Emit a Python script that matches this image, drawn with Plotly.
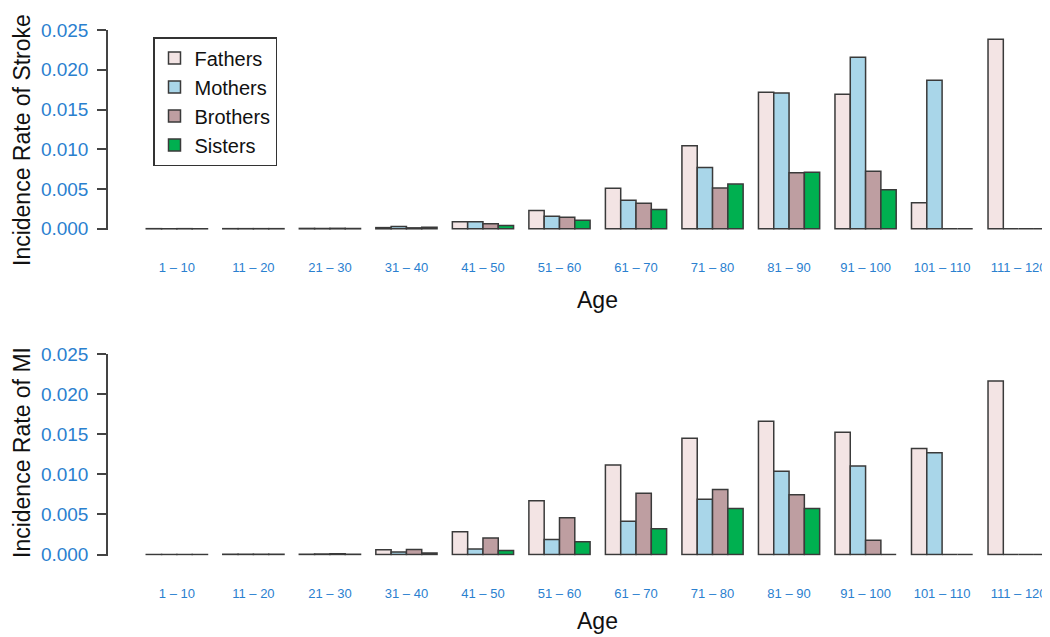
import plotly.graph_objects as go
from plotly.subplots import make_subplots

# --- Data ---
age_groups = ["1 – 10", "11 – 20", "21 – 30", "31 – 40", "41 – 50", "51 – 60",
              "61 – 70", "71 – 80", "81 – 90", "91 – 100", "101 – 110", "111 – 120"]

relatives = ["Fathers", "Mothers", "Brothers", "Sisters"]

stroke_fathers = [0.00002, 0.00002, 0.00005, 0.00015, 0.00088, 0.00229,
                  0.00509, 0.01046, 0.01717, 0.01692, 0.00329, 0.02383]
stroke_mothers = [0.00001, 0.00002, 0.00004, 0.00030, 0.00088, 0.00158,
                  0.00358, 0.00771, 0.01708, 0.02158, 0.01867, 0.0]
stroke_brothers = [0.00002, 0.00002, 0.00006, 0.00012, 0.00063, 0.00145,
                   0.00321, 0.00512, 0.00704, 0.00725, 0.0, 0.0]
stroke_sisters = [0.00001, 0.00002, 0.00004, 0.00020, 0.00042, 0.00108,
                  0.00242, 0.00562, 0.00712, 0.00492, 0.0, 0.0]

mi_fathers = [0.00001, 0.00002, 0.00004, 0.00058, 0.00285, 0.00670,
              0.01116, 0.01450, 0.01660, 0.01525, 0.01323, 0.02162]
mi_mothers = [0.00001, 0.00002, 0.00005, 0.00030, 0.00070, 0.00186,
              0.00414, 0.00690, 0.01038, 0.01103, 0.01269, 0.0]
mi_brothers = [0.00001, 0.00002, 0.00008, 0.00062, 0.00207, 0.00459,
               0.00765, 0.00810, 0.00744, 0.00178, 0.0, 0.0]
mi_sisters = [0.00001, 0.00003, 0.00004, 0.00020, 0.00050, 0.00158,
              0.00322, 0.00572, 0.00572, 0.0, 0.0, 0.0]

y_ticks = [0.0, 0.005, 0.010, 0.015, 0.020, 0.025]

# --- Styling ---
bar_colors = ["#F3E4E4", "#A9D6E9", "#BE9EA1", "#00B050"]
outline = "#3A3A3A"
tick_blue = "#2A80CF"
font_family = "Liberation Sans, Arial, sans-serif"

# the page body keeps its default 8px margin, so the figure sits 8px in from the window corner
PAGE_OFFSET = 8
FIG_W = 1050 - PAGE_OFFSET
FIG_H = 637 - PAGE_OFFSET


def px_x(x):
    """Window pixel column -> paper fraction."""
    return (x - PAGE_OFFSET) / FIG_W


def px_y(y):
    """Window pixel row -> paper fraction."""
    return 1 - (y - PAGE_OFFSET) / FIG_H


# title, series, plot top/bottom rows, y-title centre row, "Age" row
panels = [
    ("Incidence Rate of Stroke", [stroke_fathers, stroke_mothers, stroke_brothers, stroke_sisters],
     (30, 230), 140, 300),
    ("Incidence Rate of MI", [mi_fathers, mi_mothers, mi_brothers, mi_sisters],
     (354, 555.7), 453, 621),
]

fig = make_subplots(rows = 2, cols = 1)

for row, (title, series, (top, bottom), title_y, age_y) in enumerate(panels, start = 1):
    for name, values, color in zip(relatives, series, bar_colors):
        fig.add_trace(
            go.Bar(
                x = age_groups,
                y = values,
                name = name,
                marker = {"color": color, "line": {"color": outline, "width": 1.5}},
                showlegend = (row == 1),
                hoverinfo = "skip",
            ),
            row = row,
            col = 1,
        )
    fig.update_yaxes(domain = [px_y(bottom), px_y(top)], row = row, col = 1)
    fig.add_annotation(
        text = title,
        textangle = -90,
        x = px_x(22),
        y = px_y(title_y),
        xref = "paper",
        yref = "paper",
        xanchor = "center",
        yanchor = "middle",
        showarrow = False,
        font = {"size": 23, "color": "#111"},
    )
    fig.add_annotation(
        text = "Age",
        x = px_x(597),
        y = px_y(age_y),
        xref = "paper",
        yref = "paper",
        xanchor = "center",
        yanchor = "middle",
        showarrow = False,
        font = {"size": 23, "color": "#111"},
    )

fig.update_xaxes(
    range = [-0.9, 11.41],
    domain = [px_x(108), 1.0],
    automargin = False,
    showline = False,
    showgrid = False,
    zeroline = False,
    ticks = "",
    tickfont = {"size": 13, "color": tick_blue},
    ticklabelstandoff = 28,
)
fig.update_yaxes(
    range = [-0.00015, 0.025],
    tickvals = y_ticks,
    tickformat = ".3f",
    automargin = False,
    showline = True,
    linecolor = "#444",
    linewidth = 1.5,
    ticks = "outside",
    ticklen = 9,
    tickwidth = 1.5,
    tickcolor = "#444",
    ticklabelstandoff = 5,
    showgrid = False,
    zeroline = False,
    tickfont = {"size": 19, "color": tick_blue},
)

fig.update_layout(
    width = FIG_W,
    height = FIG_H,
    barmode = "group",
    bargap = 0.2,
    bargroupgap = 0,
    plot_bgcolor = "white",
    paper_bgcolor = "white",
    font = {"family": font_family, "color": "#111"},
    margin = {"l": 0, "r": 0, "t": 0, "b": 0, "autoexpand": False},
    legend = {
        "x": px_x(153),
        "y": px_y(37),
        "xanchor": "left",
        "yanchor": "top",
        "bgcolor": "white",
        "bordercolor": "#333",
        "borderwidth": 1.5,
        "font": {"size": 20, "color": "#111"},
        "tracegroupgap": 0,
    },
)

fig.write_html("out.html")
